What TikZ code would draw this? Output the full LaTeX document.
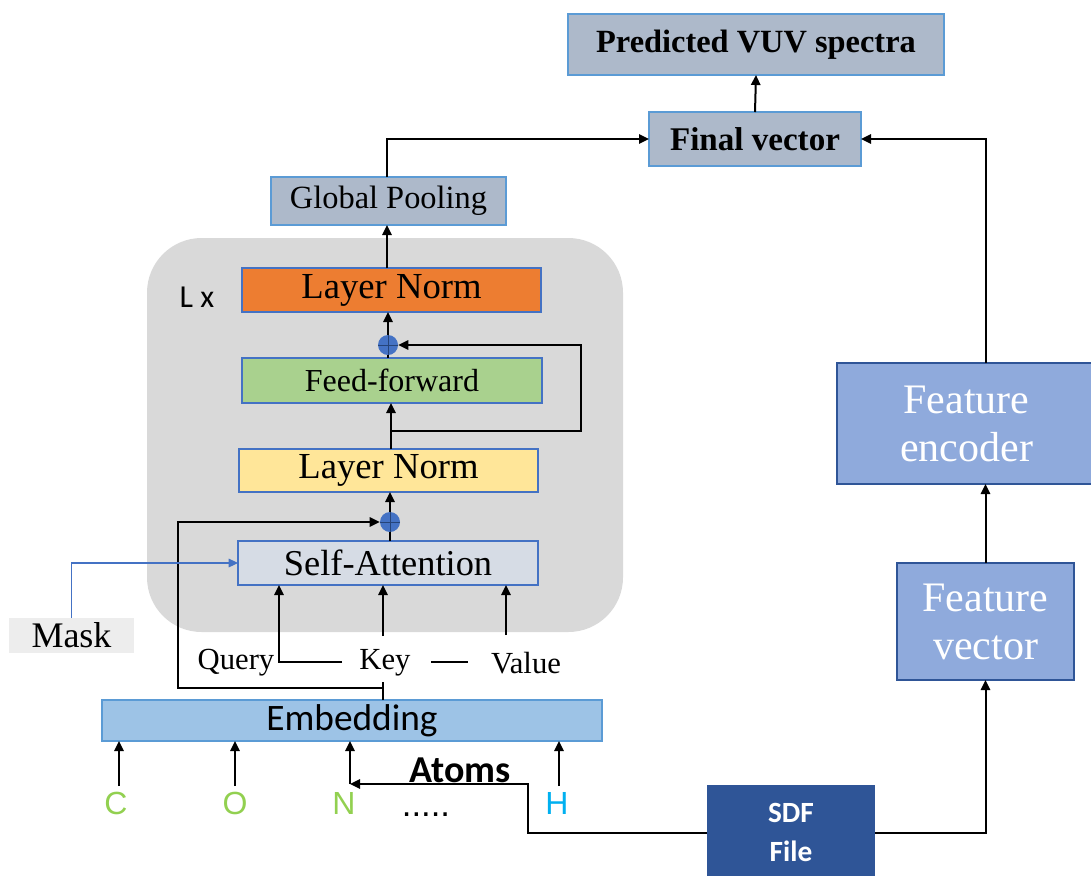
\documentclass[tikz,border=0pt]{standalone}
\usepackage{fontspec}
\setmainfont{Liberation Serif}
\newfontfamily\calfont{Carlito}
\newfontfamily\arialfont{Liberation Sans}
\usetikzlibrary{arrows.meta,calc}
\definecolor{titlefill}{HTML}{ADB9CA}
\definecolor{lightline}{HTML}{5B9BD5}
\definecolor{midblue}{HTML}{4472C4}
\definecolor{embfill}{HTML}{9DC3E6}
\definecolor{safill}{HTML}{D6DCE5}
\definecolor{featfill}{HTML}{8FAADC}
\definecolor{darkblue}{HTML}{2F5597}
\definecolor{maskfill}{HTML}{EDEDED}
\definecolor{bggray}{HTML}{D9D9D9}
\definecolor{atomgreen}{HTML}{92D050}
\definecolor{atomcyan}{HTML}{00B0F0}
\definecolor{lnorange}{HTML}{ED7D31}
\definecolor{ffgreen}{HTML}{A9D18E}
\definecolor{lnyellow}{HTML}{FFE699}
\tikzset{
  pxw/.style={minimum width=#1*0.75pt},
  pxh/.style={minimum height=#1*0.75pt},
  basebox/.style={rectangle, inner sep=0pt, outer sep=0pt, align=center},
  titlebox/.style={basebox, fill=titlefill, draw=lightline, line width=0.8pt, font=\fontsize{24.3}{28}\selectfont\bfseries},
  gpbox/.style={basebox, fill=titlefill, draw=lightline, line width=0.8pt, font=\fontsize{24.3}{28}\selectfont},
  layerbox/.style={basebox, draw=midblue, line width=0.9pt, font=\fontsize{27.5}{30}\selectfont},
  featbox/.style={basebox, fill=featfill, draw=darkblue, line width=1pt, text=white, font=\fontsize{31.5}{36}\selectfont},
  atomlabel/.style={inner sep=0pt, font=\arialfont\fontsize{24}{28}\selectfont},
  qkv/.style={inner sep=0pt, font=\fontsize{23}{27}\selectfont},
  plusnode/.style={circle, fill=midblue, inner sep=0pt, minimum size=15pt,
    path picture={\draw[darkblue!80!black, line width=0.5pt]
      (path picture bounding box.north) -- (path picture bounding box.south)
      (path picture bounding box.west) -- (path picture bounding box.east);}},
  arr/.style={line width=1.5pt, -{Triangle[length=7.5pt,width=7pt]}},
  ln/.style={line width=1.5pt},
  maskarr/.style={draw=midblue, line width=0.8pt, -{Triangle[length=7pt,width=6.5pt]}}
}
\begin{document}
\begin{tikzpicture}[x=0.75pt,y=-0.75pt]
\useasboundingbox (0,0) rectangle (1091,875);
\begin{scope}
\clip (0,0) rectangle (1091,875);
% background block
\fill[bggray, rounded corners=41pt] (147,238) rectangle (623,632);
% top
\node[titlebox, pxw=376, pxh=61] (vuv) at (756,44.5) {Predicted VUV spectra};
\node[titlebox, pxw=212, pxh=54, font=\fontsize{24.8}{28}\selectfont\bfseries] (final) at (755,139) {Final vector};
\node[gpbox, pxw=235, pxh=48] (gp) at (388.5,201) {Global Pooling};
% encoder layer
\node[inner sep=0pt, font=\calfont\fontsize{24}{28}\selectfont] (lx) at (197,297) {L x};
\node[layerbox, fill=lnorange, pxw=299, pxh=44] (ln2) at (391.5,290) {\raisebox{-2pt}{Layer Norm}};
\node[plusnode] (plus2) at (388,345) {};
\node[layerbox, fill=ffgreen, pxw=300, pxh=45, font=\fontsize{24}{28}\selectfont] (ff) at (392,380.5) {Feed-forward};
\node[layerbox, fill=lnyellow, pxw=299, pxh=43] (ln1) at (388.5,470.5) {\raisebox{-2pt}{Layer Norm}};
\node[plusnode] (plus1) at (390,522) {};
\node[layerbox, fill=safill, pxw=300, pxh=44, font=\fontsize{27.3}{30}\selectfont] (sa) at (388,563) {Self-Attention};
\node[basebox, fill=maskfill, pxw=125, pxh=35, font=\fontsize{27}{30}\selectfont] (mask) at (71.5,635.5) {Mask};
% QKV
\node[qkv] (query) at (236,663) {Query};
\node[qkv] (key) at (385,663) {Key};
\node[qkv] (value) at (526,663) {Value};
% embedding
\node[basebox, fill=embfill, draw=lightline, line width=0.8pt, pxw=500, pxh=41, font=\calfont\fontsize{28}{30}\selectfont] (emb) at (352,720.5) {Embedding};
% atoms
\node[atomlabel, text=atomgreen] (C) at (116,803) {C};
\node[atomlabel, text=atomgreen] (O) at (235,803) {O};
\node[atomlabel, text=atomgreen] (N) at (344,803) {N};
\node[atomlabel, text=atomcyan] (H) at (557,803) {H};
\node[atomlabel, anchor=base, font=\arialfont\fontsize{26}{28}\selectfont] (dots) at (426,816) {.....};
\node[inner sep=0pt, font=\calfont\fontsize{28.5}{30}\selectfont\bfseries] (atoms) at (460,770) {Atoms};
% right side
\node[basebox, fill=darkblue, pxw=168, pxh=95, text=white, font=\calfont\fontsize{22}{29}\selectfont\bfseries] (sdf) at (791,832.5) {SDF\\File};
\node[featbox, pxw=177, pxh=117] (fv) at (985.5,621.5) {Feature\\vector};
\node[featbox, pxw=259, pxh=121] (fe) at (966.5,423.5) {Feature\\encoder};
% coordinates
\coordinate (cf) at (119,786);
\coordinate (of) at (235,786);
\coordinate (hf) at (559,786);
\coordinate (nf) at (350,784);
\coordinate (bend) at (528,784);
\coordinate (kb) at (383,688);
\coordinate (ktop) at (383,682);
\coordinate (skip) at (178,688);
\coordinate (qk) at (279,662);
\coordinate (keyl) at (342,662);
\coordinate (keyr) at (431,662);
\coordinate (vall) at (468,662);
\coordinate (keyf) at (383,636);
\coordinate (valf) at (506,635);
\coordinate (ffb) at (391,431);
\coordinate (ffr) at (581,431);
% connectors
\draw[arr] (final.north) -- (vuv.south);
\draw[arr] (gp.north -| 387,0) |- (final.west);
\draw[arr] (fv.north |- fe.north) |- (final.east);
\draw[arr] (fv.north) -- (fv.north |- fe.south);
\draw[arr] (sdf.east) -| (fv.south);
\draw[arr] (sdf.west) -| (bend) -- (nf);
\draw[arr] (cf) -- (cf |- emb.south);
\draw[arr] (of) -- (of |- emb.south);
\draw[arr] (nf) -- (nf |- emb.south);
\draw[arr] (hf) -- (hf |- emb.south);
\draw[ln] (kb |- emb.north) -- (ktop);
\draw[arr] (kb) -- (skip) |- (plus1.west);
\draw[arr] (keyl) -- (qk) -- (qk |- sa.south);
\draw[ln] (keyr) -- (vall);
\draw[arr] (keyf) -- (keyf |- sa.south);
\draw[arr] (valf) -- (valf |- sa.south);
\draw[maskarr] (mask.north) |- (sa.west);
\draw[ln] (plus1.south |- sa.north) -- (plus1.south);
\draw[arr] (plus1.north) -- (plus1.north |- ln1.south);
\draw[arr] (ffb |- ln1.north) -- (ffb |- ff.south);
\draw[arr] (ffb) -- (ffr) |- (plus2.east);
\draw[ln] (plus2.south |- ff.north) -- (plus2.south);
\draw[arr] (plus2.north) -- (plus2.north |- ln2.south);
\draw[arr] (ln2.north -| 387,0) -- (gp.south -| 387,0);
\end{scope}
\end{tikzpicture}
\end{document}
